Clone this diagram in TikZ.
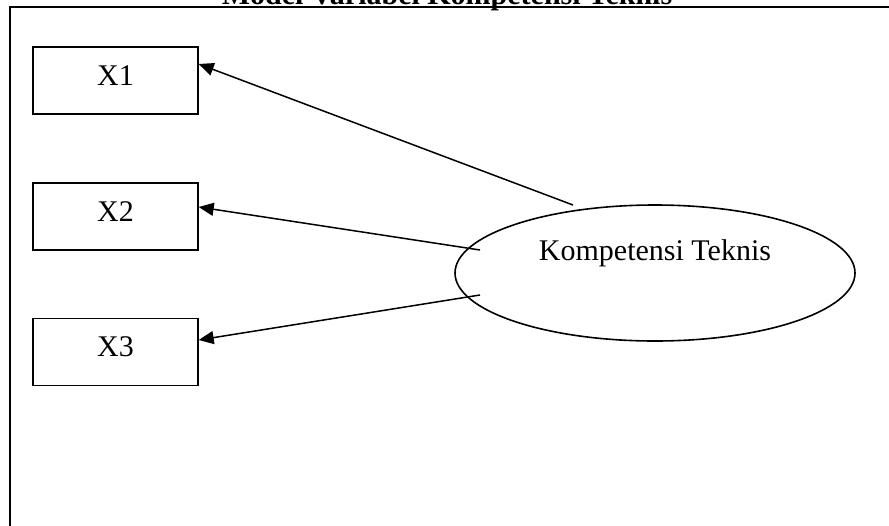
\documentclass[tikz,border=0pt]{standalone}
\usepackage{fontspec}
\setmainfont{Liberation Serif}
\usetikzlibrary{arrows.meta,shapes.geometric,calc}
\begin{document}
\begin{tikzpicture}[x=0.5pt,y=-0.5pt,
  every node/.style={font=\fontsize{15}{18}\selectfont},
  varbox/.style={draw,line width=0.7pt,minimum width=82.5pt,minimum height=33.5pt,
    inner sep=0pt,text height=10pt,text depth=5.5pt},
  latent/.style={draw,ellipse,line width=0.8pt,minimum width=200pt,minimum height=68pt,
    inner sep=0pt,text height=10pt,text depth=23pt},
  load/.style={line width=0.75pt,-{Triangle[length=7.5pt,width=6.5pt]}}]
\useasboundingbox (0,0) rectangle (889,525);
\clip (0,0) rectangle (889,525);

% outer frame and heading
\draw[line width=1pt] (9.5,7) rectangle (905,540);
\node[anchor=base,font=\fontsize{15}{18}\selectfont\bfseries] (title) at (447,4)
  {Model Variabel Kompetensi Teknis};

% indicator boxes
\node[varbox] (x1) at (115.5,80.5) {X1};
\node[varbox] (x2) at (115.5,216.5) {X2};
\node[varbox] (x3) at (115.5,352) {X3};

% latent variable
\node[latent] (k) at (655,273) {Kompetensi Teknis};

% start points of the loadings
\coordinate (s1) at ($(k.center)+(-82,-68)$);
\coordinate (s2) at ($(k.center)+(-175,-23)$);
\coordinate (s3) at ($(k.center)+(-175,22)$);

\draw[load] (s1) -- ($(x1.east)+(0,-16.5)$);
\draw[load] (s2) -- ($(x2.east)+(0,-9.5)$);
\draw[load] (s3) -- ($(x3.east)+(0,-12)$);
\end{tikzpicture}
\end{document}
